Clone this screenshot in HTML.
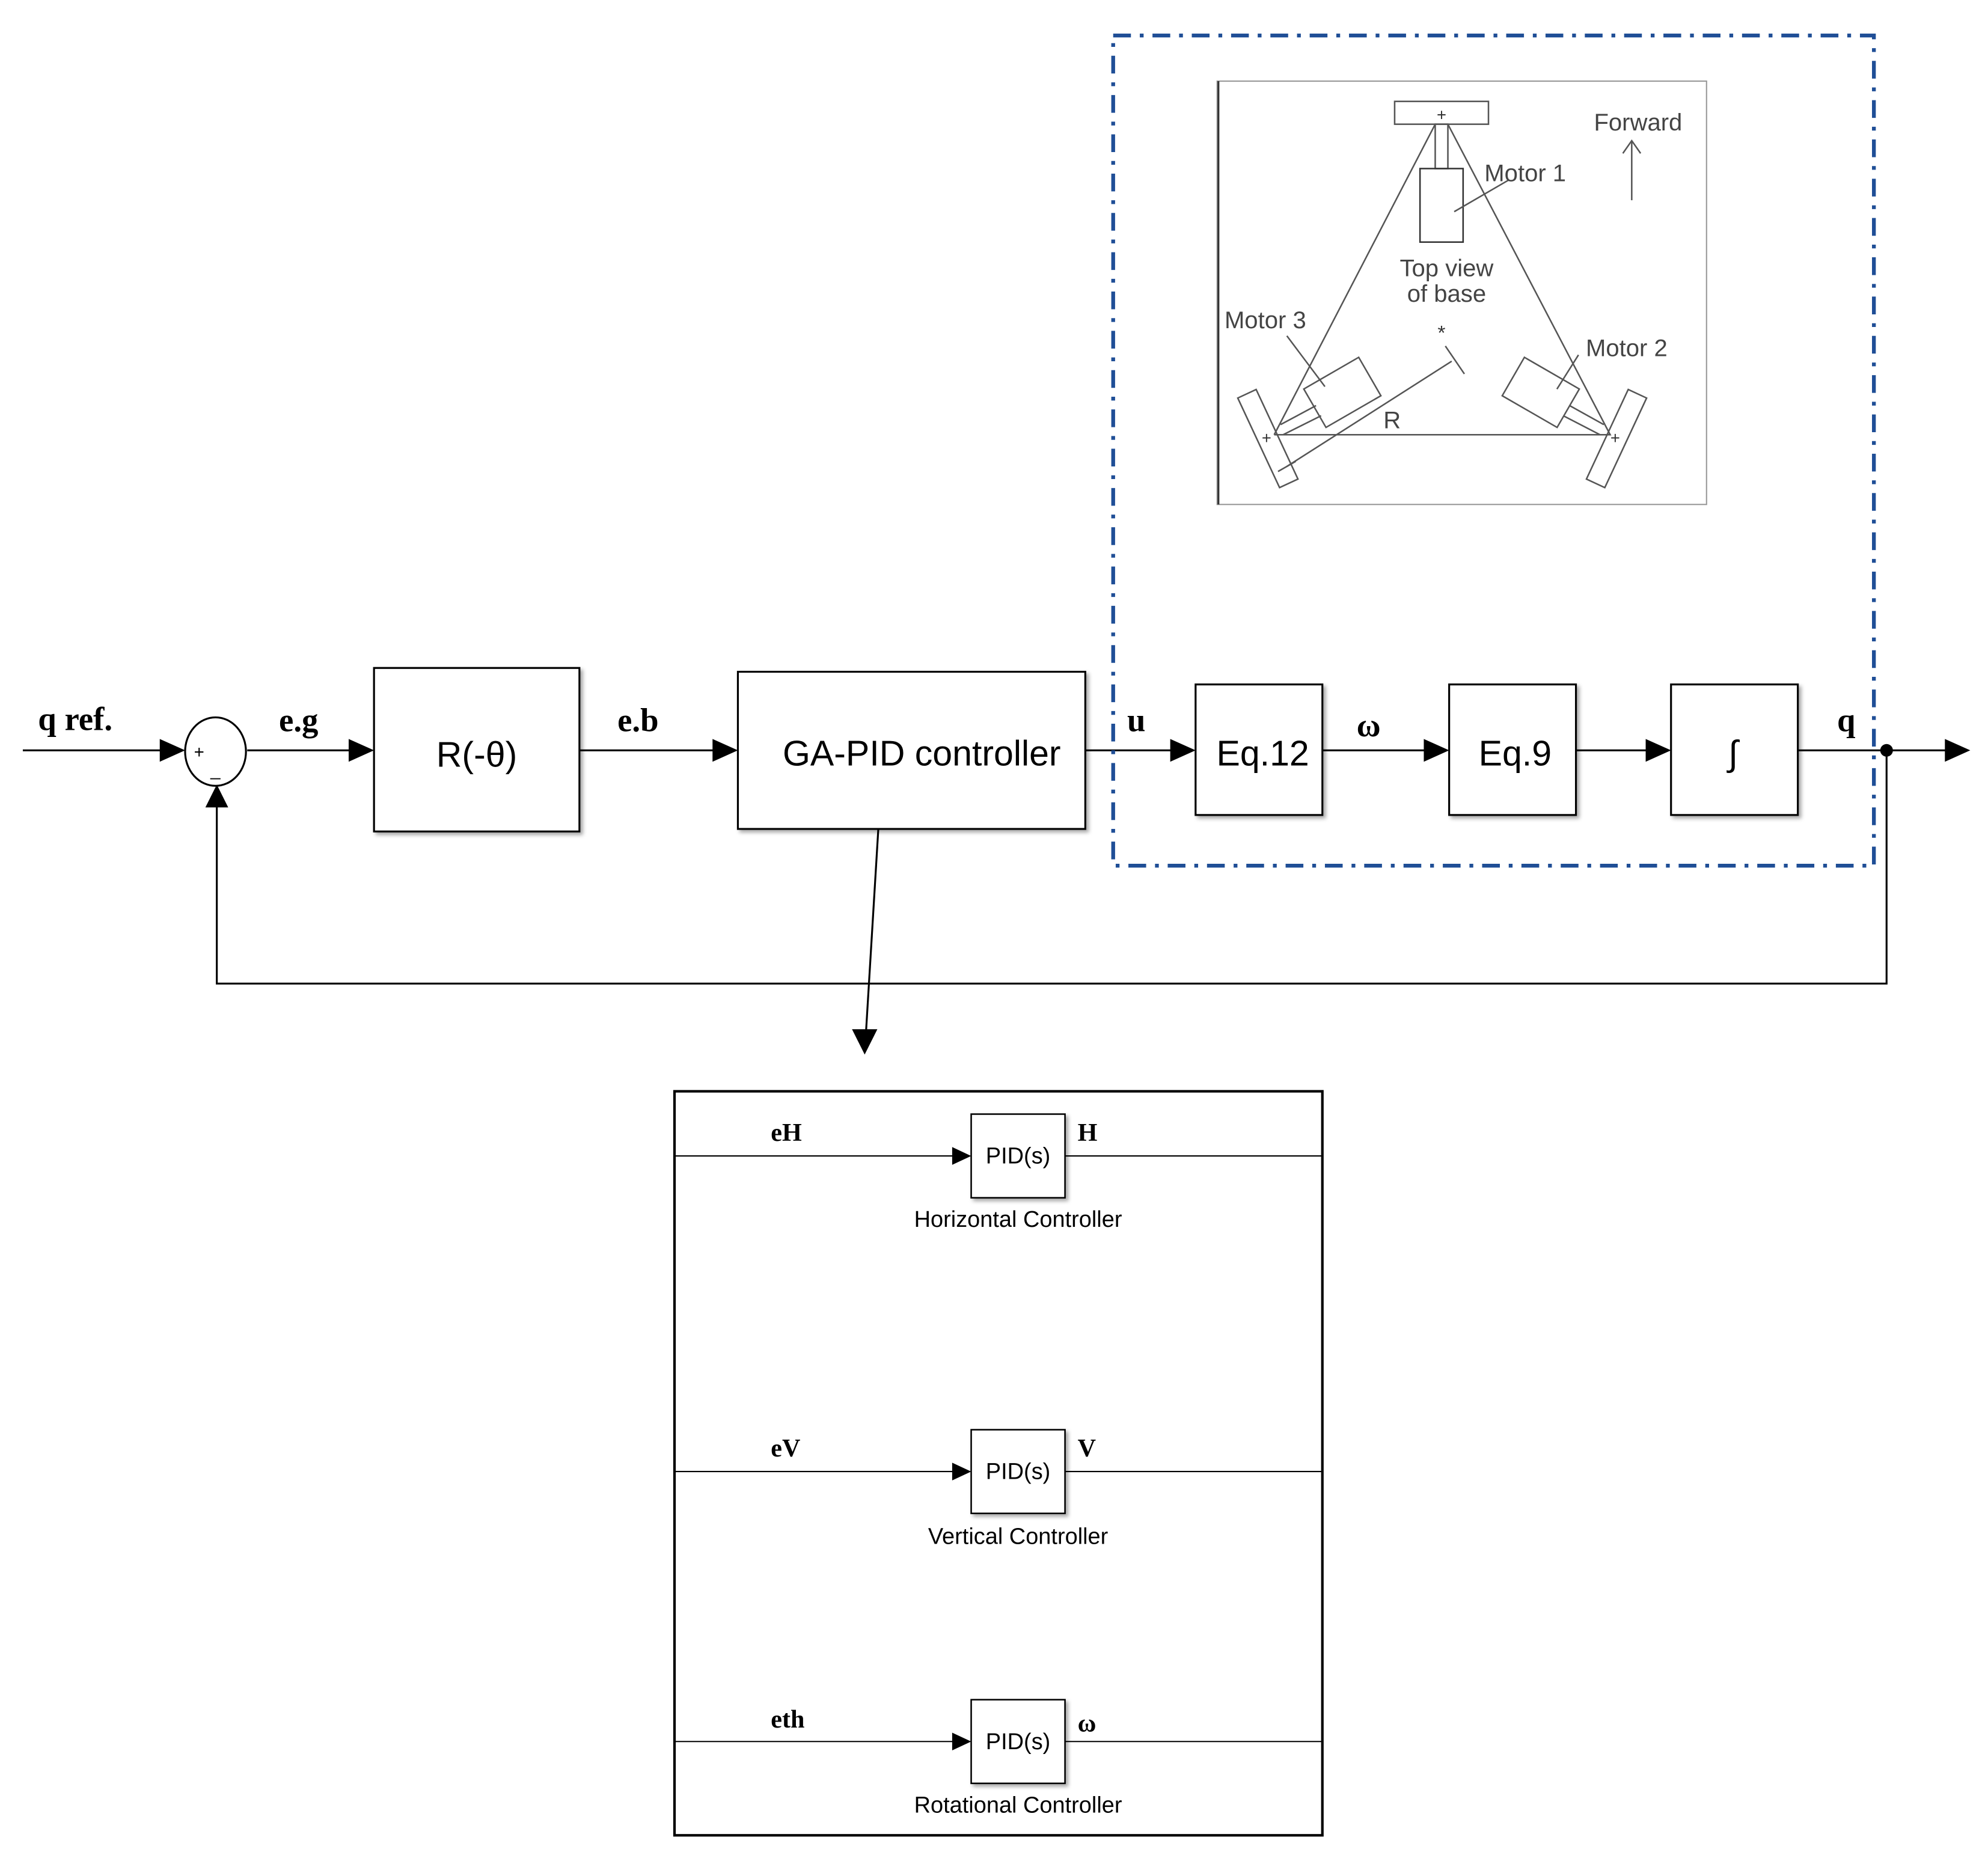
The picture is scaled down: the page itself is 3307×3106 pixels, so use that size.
<!DOCTYPE html>
<html><head><meta charset="utf-8"><style>html,body{margin:0;padding:0;background:#fff}svg{display:block}</style></head><body>
<svg width="3307" height="3106" viewBox="0 0 1568 1473" preserveAspectRatio="none" xmlns="http://www.w3.org/2000/svg">
<defs>
<filter id="sh"><feDropShadow dx="2" dy="2" stdDeviation="1.5" flood-opacity="0.35"/></filter>
</defs>
<rect width="1568" height="1473" fill="#fff"/>
<g font-family="Liberation Serif, serif" font-weight="bold" font-size="26" fill="#000">
<text x="30" y="576">q ref.</text>
<text x="220" y="577">e.g</text>
<text x="487" y="577">e.b</text>
<text x="889" y="577">u</text>
<text x="1070" y="581">ω</text>
<text x="1449" y="577">q</text>
</g>
<g stroke="#000" stroke-width="1.5" fill="none">
<line x1="18" y1="592" x2="130" y2="592"/>
<line x1="195" y1="592" x2="278" y2="592"/>
<line x1="457" y1="592" x2="565" y2="592"/>
<line x1="856" y1="592" x2="926" y2="592"/>
<line x1="1043" y1="592" x2="1126" y2="592"/>
<line x1="1243" y1="592" x2="1301" y2="592"/>
<line x1="1418" y1="592" x2="1536" y2="592"/>
<polyline points="1488,592 1488,776 171,776 171,636"/>
<line x1="693" y1="650" x2="683" y2="815"/>
</g>
<g fill="#000">
<path d="M126,583 L146,592 L126,601Z"/>
<path d="M275,583 L295,592 L275,601Z"/>
<path d="M562,583 L582,592 L562,601Z"/>
<path d="M923,583 L943,592 L923,601Z"/>
<path d="M1123,583 L1143,592 L1123,601Z"/>
<path d="M1298,583 L1318,592 L1298,601Z"/>
<path d="M1534,583 L1554,592 L1534,601Z"/>
<path d="M162,637 L171,619 L180,637Z"/>
<path d="M672,812 L682,832 L692,812Z"/>
<circle cx="1488" cy="592" r="5"/>
</g>
<ellipse cx="170" cy="593" rx="24" ry="27" fill="#fff" stroke="#000" stroke-width="1.5"/>
<text x="153" y="598" font-family="Liberation Sans, sans-serif" font-size="14">+</text>
<text x="166" y="612" font-family="Liberation Sans, sans-serif" font-size="14">_</text>
<g fill="#fff" stroke="#000" stroke-width="1.5" filter="url(#sh)">
<rect x="295" y="527" width="162" height="129"/>
<rect x="582" y="530" width="274" height="124"/>
<rect x="943" y="540" width="100" height="103"/>
<rect x="1143" y="540" width="100" height="103"/>
<rect x="1318" y="540" width="100" height="103"/>
</g>
<g font-family="Liberation Sans, sans-serif" font-size="28" text-anchor="middle" fill="#000">
<text x="376" y="605">R(-θ)</text>
<text x="727" y="604">GA-PID controller</text>
<text x="996" y="604">Eq.12</text>
<text x="1195" y="604">Eq.9</text>
<text x="1367" y="604">∫</text>
</g>
<rect x="878" y="28" width="600" height="655" fill="none" stroke="#1f4e96" stroke-width="3" stroke-dasharray="14,7,3,7"/>
<rect x="960" y="64" width="386" height="334" fill="#fff" stroke="#999" stroke-width="1"/>
<line x1="961" y1="64" x2="961" y2="398" stroke="#333" stroke-width="1.5"/>
<g stroke="#555" stroke-width="1.2" fill="none">
<rect x="1100" y="80" width="74" height="18"/>
<rect x="1132" y="98" width="10" height="35"/>
<rect x="1120" y="133" width="34" height="58" stroke="#333"/>
<polyline points="1005,343 1132,98 1142,98 1270,343 1005,343"/>
<line x1="1287" y1="158" x2="1287" y2="111"/>
<polyline points="1280,121 1287,111 1294,121"/>
<line x1="1147" y1="167" x2="1190" y2="142"/>
<line x1="1015" y1="265" x2="1045" y2="305"/>
<line x1="1245" y1="280" x2="1228" y2="307"/>
<rect x="1034" y="292" width="50" height="35" transform="rotate(-30 1059 310)"/>
<rect x="1190" y="292" width="50" height="35" transform="rotate(30 1215 310)"/>
<rect x="992" y="307" width="16" height="78" transform="rotate(-25 1000 346)"/>
<rect x="1267" y="307" width="16" height="78" transform="rotate(25 1275 346)"/>
<line x1="1010" y1="335" x2="1038" y2="320"/>
<line x1="1012" y1="343" x2="1042" y2="328"/>
<line x1="1265" y1="335" x2="1238" y2="320"/>
<line x1="1262" y1="343" x2="1233" y2="328"/>
<line x1="1015" y1="368" x2="1145" y2="285"/>
<line x1="1140" y1="273" x2="1155" y2="295"/>
<line x1="1008" y1="372" x2="1022" y2="364"/>
</g>
<g font-family="Liberation Sans, sans-serif" font-size="13" fill="#333" text-anchor="middle">
<text x="1137" y="95">+</text><text x="999" y="350">+</text><text x="1274" y="350">+</text>
<text x="1137" y="268" font-size="16">*</text>
</g>
<g font-family="Liberation Sans, sans-serif" font-size="19" fill="#444" text-anchor="middle">
<text x="1292" y="103">Forward</text>
<text x="1203" y="143">Motor 1</text>
<text x="1141" y="218">Top view</text>
<text x="1141" y="238">of base</text>
<text x="998" y="259">Motor 3</text>
<text x="1283" y="281">Motor 2</text>
<text x="1098" y="338">R</text>
</g>
<rect x="532" y="861" width="511" height="587" fill="none" stroke="#000" stroke-width="2"/>
<g stroke="#000" stroke-width="1" fill="none">
<line x1="532" y1="912" x2="752" y2="912"/><line x1="840" y1="912" x2="1043" y2="912"/>
<line x1="532" y1="1161" x2="752" y2="1161"/><line x1="840" y1="1161" x2="1043" y2="1161"/>
<line x1="532" y1="1374" x2="752" y2="1374"/><line x1="840" y1="1374" x2="1043" y2="1374"/>
</g>
<g fill="#000">
<path d="M751,905 L766,912 L751,919Z"/>
<path d="M751,1154 L766,1161 L751,1168Z"/>
<path d="M751,1367 L766,1374 L751,1381Z"/>
</g>
<g fill="#fff" stroke="#000" stroke-width="1.2" filter="url(#sh)">
<rect x="766" y="879" width="74" height="66"/>
<rect x="766" y="1128" width="74" height="66"/>
<rect x="766" y="1341" width="74" height="66"/>
</g>
<g font-family="Liberation Sans, sans-serif" font-size="18" fill="#000" text-anchor="middle">
<text x="803" y="918">PID(s)</text>
<text x="803" y="1167">PID(s)</text>
<text x="803" y="1380">PID(s)</text>
<text x="803" y="968">Horizontal Controller</text>
<text x="803" y="1218">Vertical Controller</text>
<text x="803" y="1430">Rotational Controller</text>
</g>
<g font-family="Liberation Serif, serif" font-weight="bold" font-size="20" fill="#000">
<text x="608" y="900">eH</text><text x="850" y="900">H</text>
<text x="608" y="1149">eV</text><text x="850" y="1149">V</text>
<text x="608" y="1363">eth</text><text x="850" y="1366">ω</text>
</g>
</svg>
</body></html>
